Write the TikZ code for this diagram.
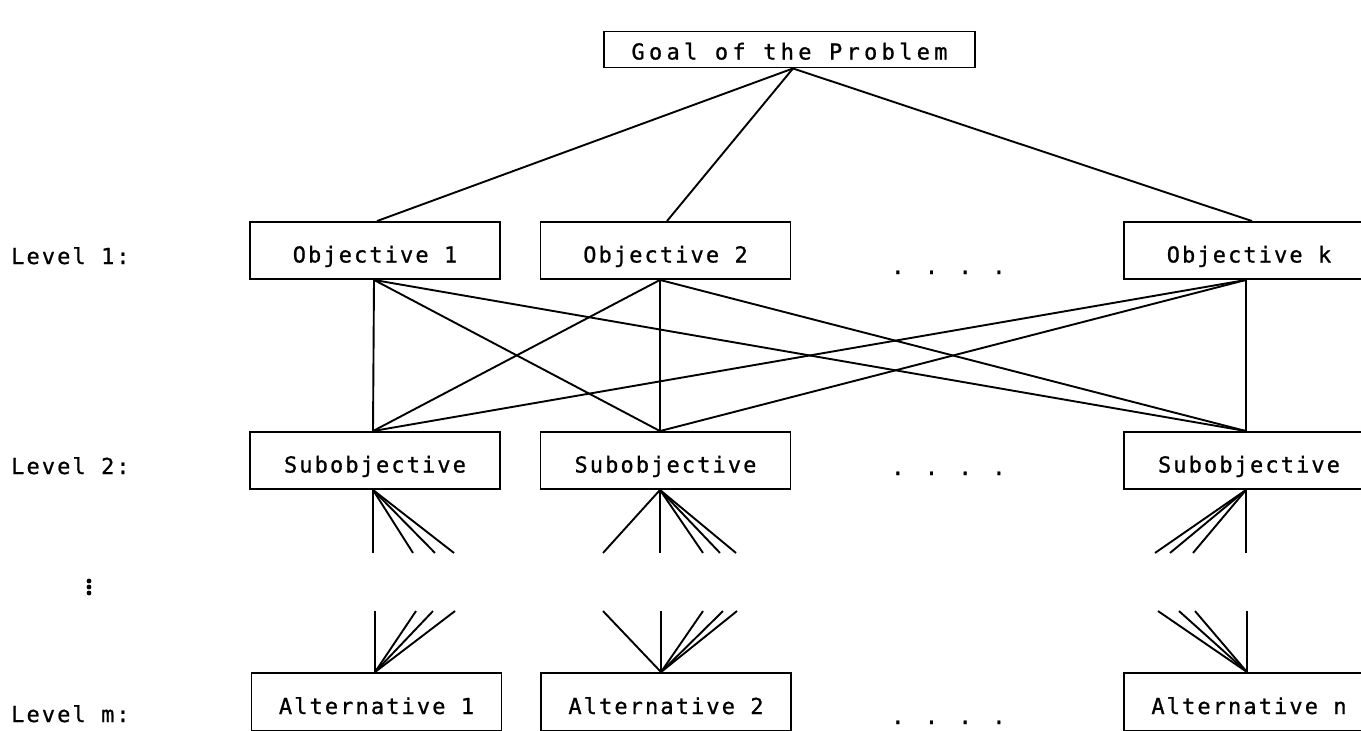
\documentclass[tikz,border=0pt]{standalone}
\usepackage{fontspec}
\newfontfamily\ahpfont[LetterSpace=9.5,FakeBold=0.9]{DejaVu Sans Mono}
\newfontfamily\ahpgoalfont[LetterSpace=19.5,FakeBold=0.9]{DejaVu Sans Mono}
\begin{document}
\begin{tikzpicture}[x=1pt,y=-1pt,
  every node/.style={font=\ahpfont\fontsize{22}{24}\selectfont},
  box/.style={draw,line width=1.9pt,minimum width=250pt,minimum height=57pt,inner sep=0pt,text height=24pt,text depth=0pt},
  conn/.style={line width=1.9pt},
  lbl/.style={anchor=west,inner sep=0pt,text height=16pt,text depth=0pt}]
\useasboundingbox (0,0) rectangle (1361,731);
\clip (0,0) rectangle (1361,731);
% goal
\node[box,minimum width=371pt,minimum height=36pt,text height=20pt,font=\ahpgoalfont\fontsize{22}{24}\selectfont] (goal) at (789.5,49.5) {Goal of the Problem};
% level 1
\node[box] (o1) at (375,250.5) {Objective 1};
\node[box] (o2) at (665.5,250.5) {Objective 2};
\node[box] (ok) at (1249,250.5) {Objective k};
% level 2
\node[box] (s1) at (375,460.5) {Subobjective};
\node[box] (s2) at (665.5,460.5) {Subobjective};
\node[box] (sk) at (1249,460.5) {Subobjective};
% level m
\node[box,minimum height=58pt] (a1) at (376.5,702) {Alternative 1};
\node[box,minimum height=58pt] (a2) at (666,702) {Alternative 2};
\node[box,minimum height=58pt] (an) at (1249,702) {Alternative n};
% labels
\node[lbl] (l1) at (11,256) {Level 1:};
\node[lbl] (l2) at (11,466) {Level 2:};
\node[lbl] (lm) at (11,714) {Level m:};
\node[lbl] (d1) at (891,266) {. . . .};
\node[lbl] (d2) at (891,467) {. . . .};
\node[lbl] (dm) at (891,716) {. . . .};
\fill (89,581) circle (2.4) (89,587) circle (2.4) (89,593) circle (2.4);
% goal to objectives
\coordinate (g) at ([xshift=3.5pt]goal.south);
\draw[conn] (g) -- ([xshift=2pt]o1.north);
\draw[conn] (g) -- ([xshift=1.5pt]o2.north);
\draw[conn] (g) -- ([xshift=3pt]ok.north);
% objectives to subobjectives
\coordinate (o1b) at ([xshift=-1pt]o1.south);
\coordinate (o2b) at ([xshift=-5.5pt]o2.south);
\coordinate (okb) at ([xshift=-3pt]ok.south);
\coordinate (s1t) at ([xshift=-2pt]s1.north);
\coordinate (s2t) at ([xshift=-5.5pt]s2.north);
\coordinate (skt) at ([xshift=-3pt]sk.north);
\foreach \a in {o1b,o2b,okb}{
  \foreach \b in {s1t,s2t,skt}{
    \draw[conn] (\a) -- (\b);
  }
}
% fans below subobjectives
\coordinate (s1b) at ([xshift=-2pt]s1.south);
\coordinate (s2b) at ([xshift=-5.5pt]s2.south);
\coordinate (skb) at ([xshift=-3pt]sk.south);
\foreach \dx in {0,40,62,81} \draw[conn] (s1b) -- ++(\dx,63);
\foreach \dx in {-57,0,43,60,76} \draw[conn] (s2b) -- ++(\dx,63);
\foreach \dx in {-91,-76,-53,0} \draw[conn] (skb) -- ++(\dx,63);
% fans above alternatives
\coordinate (a1t) at ([xshift=-1.5pt]a1.north);
\coordinate (a2t) at ([xshift=-5pt]a2.north);
\coordinate (ant) at ([xshift=-2pt]an.north);
\foreach \dx in {0,41,58,80} \draw[conn] (a1t) -- ++(\dx,-61);
\foreach \dx in {-58,0,42,62,76} \draw[conn] (a2t) -- ++(\dx,-61);
\foreach \dx in {-89,-68,-52,0} \draw[conn] (ant) -- ++(\dx,-61);
\end{tikzpicture}
\end{document}
